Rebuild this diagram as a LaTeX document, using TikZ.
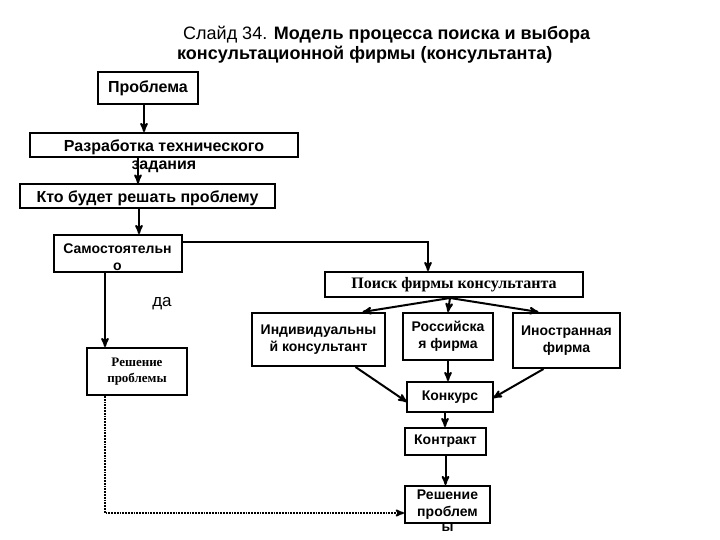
\documentclass[tikz,border=0pt]{standalone}
\usepackage{fontspec}
\setmainfont{Liberation Serif}
\setsansfont{Liberation Sans}
\usetikzlibrary{arrows,calc}
\tikzset{
        blok/.style = {draw=black, line width=2pt, align=center, inner sep=0pt,
            font=\sffamily\bfseries\fontsize{14}{17}\selectfont},
        blok_b/.style = {blok, font=\sffamily\bfseries\fontsize{16}{18}\selectfont},
        blok_s/.style = {blok, font=\rmfamily\bfseries\fontsize{16}{18}\selectfont},
        blok_m/.style = {blok, font=\rmfamily\bfseries\fontsize{13}{16}\selectfont},
        strelka/.style = {->, >=stealth', line width=2pt},
        punktir/.style = {->, >=stealth', line width=1.8pt, densely dotted}
    }

\begin{document}
\begin{tikzpicture}[x=1pt,y=-1pt]
    \useasboundingbox (0,0) rectangle (720,540);
    % title
    \node [anchor=north west, align=left, inner sep=0pt,
        font=\sffamily\fontsize{18}{20}\selectfont] (title) at (177,26)
        {\hspace{6pt}Слайд 34. \textbf{Модель процесса поиска и выбора}\\
         \textbf{консультационной фирмы (консультанта)}};
    % left column
    \node [blok_b, minimum width=100, minimum height=32] (problema) at (148,88) {Проблема};
    \node [blok_b, minimum width=268, minimum height=24, text height=17pt,
        label={[font=\sffamily\bfseries\fontsize{16}{18}\selectfont, inner sep=0pt,
        label distance=3pt]below:задания}] (tz) at (164,145) {Разработка технического};
    \node [blok_b, minimum width=255, minimum height=24, text height=15pt] (kto) at (147.5,196.5) {Кто будет решать проблему};
    \node [blok, minimum width=128, minimum height=37, text height=33pt, text depth=0pt] (samost) at (117.5,253.5)
        {Самостоятельн\\о};
    \node [blok_m, minimum width=100, minimum height=47] (resh1) at (137,371.5) {Решение\\проблемы};
    \node [font=\sffamily\fontsize{17}{18}\selectfont] (da) at (162,304) {да};
    % right column
    \node [blok_s, minimum width=258, minimum height=25] (poisk) at (454,284.5) {Поиск фирмы консультанта};
    \node [blok, minimum width=133, minimum height=53] (ind) at (318.5,339.5) {Индивидуальны\\й консультант};
    \node [blok, minimum width=90, minimum height=47] (rus) at (448,336.5) {Российска\\я фирма};
    \node [blok, minimum width=107, minimum height=55] (ino) at (566.5,340.5) {Иностранная\\фирма};
    \node [blok, minimum width=86, minimum height=30] (konk) at (450,397) {Конкурс};
    \node [blok, minimum width=81, minimum height=27] (kontr) at (445.5,441.5) {Контракт};
    \node [blok, minimum width=85, minimum height=37,
        label={[font=\sffamily\bfseries\fontsize{14}{17}\selectfont, inner sep=0pt,
        label distance=0pt]below:ы}] (resh2) at (447.5,504.5) {Решение\\проблем};

    \coordinate (p1) at ($(problema.south)+(-4,0)$);
    \coordinate (p2) at ($(tz.south)+(-26,0)$);
    \coordinate (p3) at ($(kto.south)+(-8.5,0)$);
    \coordinate (sd) at ($(samost.south)+(-12.5,0)$);
    \coordinate (ps) at ($(poisk.south)+(-4,0)$);
    \coordinate (kn) at ($(konk.south)+(-5,0)$);
    \draw [strelka] (p1) -- (p1 |- tz.north);
    \draw [strelka] (p2) -- (p2 |- kto.north);
    \draw [strelka] (p3) -- (p3 |- samost.north);
    \draw [strelka] (sd) -- (sd |- resh1.north);
    \draw [strelka] ($(samost.east)+(0,-12)$) -| ($(poisk.north)+(-26,0)$);
    \draw [strelka] (ps) -- ($(ind.north)+(44,0)$);
    \draw [strelka] (ps) -- (rus.north);
    \draw [strelka] (ps) -- ($(ino.north)+(-28,0)$);
    \draw [strelka] ($(ind.south)+(37,0)$) -- ($(konk.west)+(1,5)$);
    \draw [strelka] (rus.south) -- (rus.south |- konk.north);
    \draw [strelka] ($(ino.south)+(-23,0)$) -- ($(konk.east)+(-1,1)$);
    \draw [strelka] (kn) -- (kn |- kontr.north);
    \draw [strelka] (kontr.south) -- (kontr.south |- resh2.north);
    \draw [punktir] (sd |- resh1.south) |- ($(resh2.west)+(0,8.5)$);
\end{tikzpicture}
\end{document}
